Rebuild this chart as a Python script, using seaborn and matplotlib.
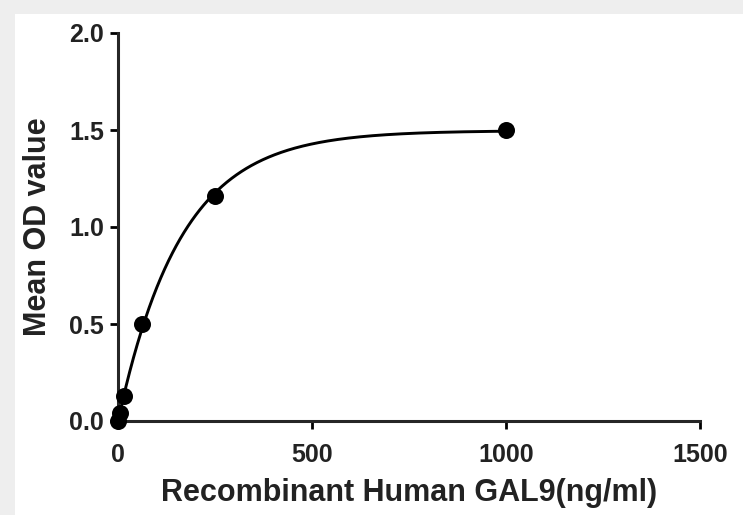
import numpy as np
import pandas as pd
import matplotlib
matplotlib.use("Agg")
import matplotlib.pyplot as plt
import seaborn as sns

# standard curve data
conc = [0, 3.9, 15.6, 62.5, 250, 1000]
mean_od = [0.0, 0.04, 0.13, 0.50, 1.16, 1.50]

x_ticks = [0, 500, 1000, 1500]
y_ticks = [0.0, 0.5, 1.0, 1.5, 2.0]
x_label = "Recombinant Human GAL9(ng/ml)"
y_label = "Mean OD value"

df = pd.DataFrame({"conc": conc, "od": mean_od})

# one-phase association fit (Ymax * (1 - exp(-k x))), least squares over k
xs = np.array(conc, dtype=float)
ys = np.array(mean_od, dtype=float)
best = None
for k in np.linspace(0.001, 0.02, 2000):
    f = 1 - np.exp(-k * xs)
    ymax = (ys * f).sum() / (f * f).sum()
    err = ((ys - ymax * f) ** 2).sum()
    if best is None or err < best[0]:
        best = (err, k, ymax)
_, k_fit, ymax_fit = best
x_fit = np.linspace(0, max(conc), 400)
fit_df = pd.DataFrame({"conc": x_fit, "od": ymax_fit * (1 - np.exp(-k_fit * x_fit))})

sns.set_style("ticks")
plt.rcParams["font.family"] = ["Liberation Sans", "DejaVu Sans"]
plt.rcParams["font.weight"] = "bold"

fig = plt.figure(figsize=(7.43, 5.15), dpi=100)
fig.patch.set_facecolor("#eeeeee")
fig.patches.append(plt.Rectangle((15 / 743, 0), 1, (515 - 14) / 515,
                                 transform=fig.transFigure, facecolor="white",
                                 edgecolor="none", zorder=-10))

ax = fig.add_axes([118 / 743, (515 - 421) / 515, (700 - 118) / 743, (421 - 33) / 515])
ax.set_facecolor("none")
ax.set_zorder(1)

sns.lineplot(data=fit_df, x="conc", y="od", ax=ax, color="black", lw=2.1,
             clip_on=False)
sns.scatterplot(data=df, x="conc", y="od", ax=ax, color="black", s=150,
                edgecolor="black", linewidth=0, clip_on=False, zorder=5)

ax.set_xlim(0, 1500)
ax.set_ylim(0, 2.0)
ax.set_xticks(x_ticks)
ax.set_yticks(y_ticks)
ax.set_xticklabels([str(t) for t in x_ticks])
ax.set_yticklabels([f"{t:.1f}" for t in y_ticks])
ax.tick_params(axis="both", direction="out", length=6, width=2,
               labelsize=18, colors="black")
ax.tick_params(axis="x", pad=10)
ax.tick_params(axis="y", pad=4)
for lab in ax.get_xticklabels() + ax.get_yticklabels():
    lab.set_fontweight("bold")
    lab.set_color("#222222")

sns.despine(ax=ax)
ax.spines["left"].set_linewidth(2.2)
ax.spines["bottom"].set_linewidth(2.2)

ax.set_xlabel(x_label, fontsize=22, fontweight="bold", color="#222222", labelpad=8)
ax.set_ylabel(y_label, fontsize=22, fontweight="bold", color="#222222", labelpad=12)

plt.savefig("out.png", dpi=100, facecolor=fig.get_facecolor())
